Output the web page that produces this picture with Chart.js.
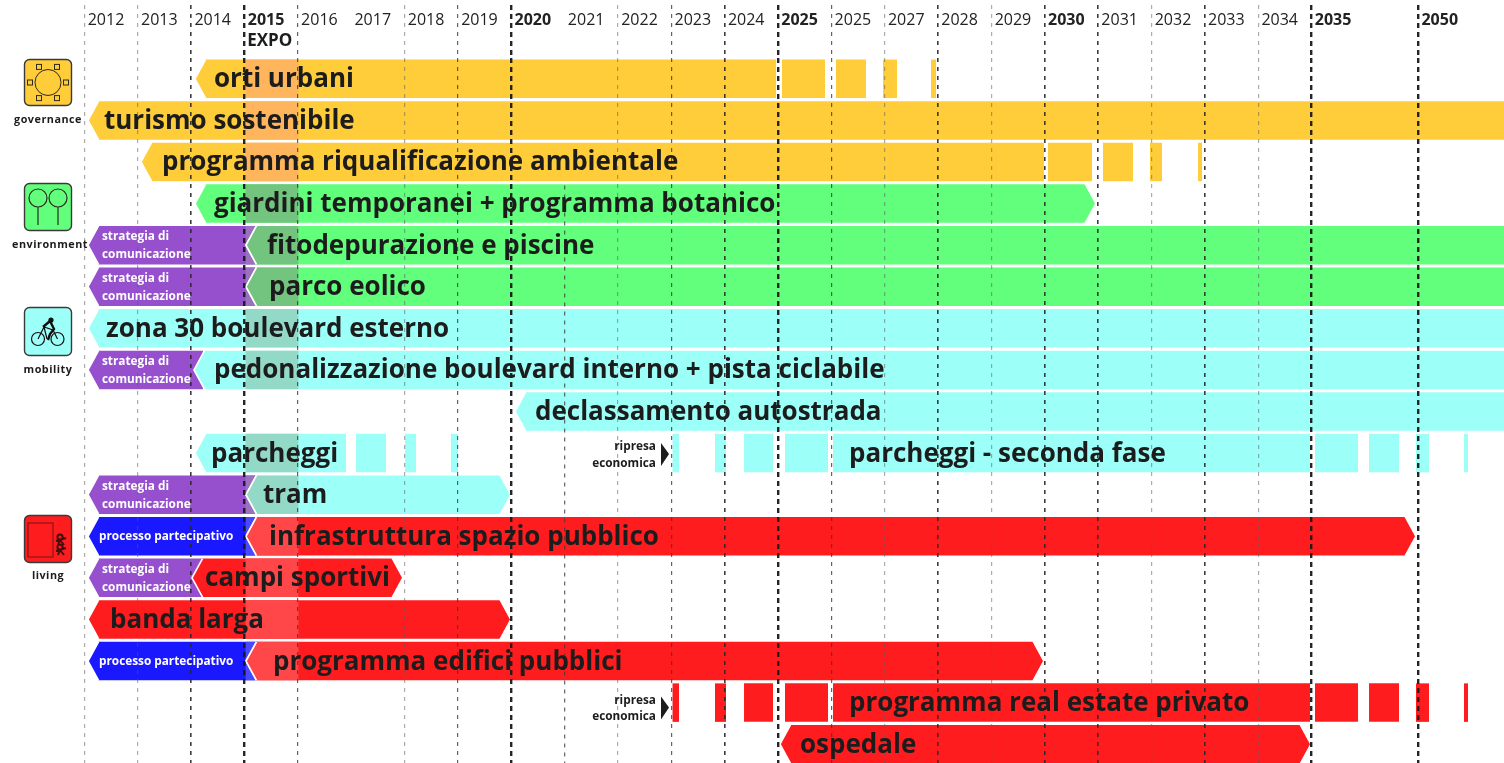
<!DOCTYPE html>
<html>
<head>
<meta charset="utf-8">
<title>Cronoprogramma</title>
<script src="https://cdn.jsdelivr.net/npm/chart.js@4"></script>
<style>
  html, body { margin: 0; padding: 0; background: #fff; overflow: hidden; }
  #wrap { width: 1504px; height: 765px; }
</style>
</head>
<body>
<div id="wrap"><canvas id="plot"></canvas></div>
<script>
// tick labels: the axis is in years, but the last tick (2050) sits two slots after 2035
const tickPositions = [2012,2013,2014,2015,2016,2017,2018,2019,2020,2021,2022,2023,2024,2025,2026,2027,2028,2029,2030,2031,2032,2033,2034,2035,2037];
const tickLabels = ["2012","2013","2014","2015","2016","2017","2018","2019","2020","2021","2022","2023","2024","2025","2025","2027","2028","2029","2030","2031","2032","2033","2034","2035","2050"];
const tickBold = [0,0,0,1,0,0,0,0,1,0,0,0,0,1,0,0,0,0,1,0,0,0,0,1,1];
// 0 no line, 1 light, 2 medium, 3 dark, 4 heavy
const tickWeight = [1,1,3,4,2,0,1,2,4,0,1,2,3,4,2,1,3,1,3,3,1,3,1,4,4];

const rowNames = [
  "orti urbani","turismo sostenibile","programma riqualificazione ambientale",
  "giardini temporanei + programma botanico","fitodepurazione e piscine","parco eolico",
  "zona 30 boulevard esterno","pedonalizzazione boulevard interno + pista ciclabile",
  "declassamento autostrada","parcheggi","tram","infrastruttura spazio pubblico",
  "campi sportivi","banda larga","programma edifici pubblici",
  "programma real estate privato","ospedale"
];
const rowGroup = ["gov","gov","gov","env","env","env","mob","mob","mob","mob","mob","liv","liv","liv","liv","liv","liv"];

const mainFrom = [2014.071,2012.066,2013.059,2014.071,2015.027,2015.027,2012.066,2014.052,2020.069,2014.071,2015.027,2015.027,2014.015,2012.066,2015.027,null,2025.036];
const mainTo = [2024.962,2038.7,2029.985,2030.941,2038.7,2038.7,2038.7,2038.7,2038.7,2016.901,2019.975,2036.939,2017.951,2019.975,2029.966,null,2034.971];
const mainRightTip = [0,0,0,1,0,0,0,0,0,0,1,1,1,1,1,0,1];
const labelFrom = [2014.427,2012.365,2013.453,2014.427,2015.421,2015.458,2012.403,2014.427,2020.444,2014.371,2015.346,2015.458,2014.259,2012.478,2015.533,2026.33,2025.411];

const ortiFragments = [[2025.074,2025.88],[2026.086,2026.648],[2026.967,2027.229],[2027.867,2027.961]];
const riqualificazioneFragments = [[2030.06,2030.885],[2031.091,2031.653],[2031.972,2032.197],[2032.872,2032.946]];
const parcheggiFragments = [[2017.089,2017.651],[2018.007,2018.214],[2018.87,2019.001]];
const secondaFase = [[2023.022,2023.143],[2023.818,2024.024],[2024.362,2024.905],[2025.13,2025.936],[2026.03,2034.971],[2035.064,2035.871],[2036.077,2036.639],[2036.958,2037.201],[2037.857,2037.932]];

const strategiaRows = [4,5,7,10,12];
const strategiaTo = [2015.233,2015.233,2014.221,2015.233,2014.221];
const processoRows = [11,14];
const processoTo = [2015.233,2015.233];
const commFrom = 2012.066;

const expoFrom = 2015.02, expoTo = 2016.01;
const expoRows = [0,1,2,3,4,5,6,7,9,10,11,12,13,14];

const colors = { gov: "#ffcc3a", env: "#62ff7c", mob: "#9cfff8", liv: "#ff1c1e" };
const expoColors = { gov: "#ffb55c", env: "#72c47e", mob: "#93d9c7", liv: "#ff4648" };
const purple = "#9650cd", purpleWash = "#9a70c0", blue = "#1a18ff", blueWash = "#4a48ff";
const ink = "#1c1c1c";
const gridStyles = [
  { color: "rgba(0,0,0,0)", width: 0, dash: [] },
  { color: "rgba(90,90,90,.5)", width: 1.2, dash: [4,5] },
  { color: "rgba(60,60,60,.8)", width: 1.2, dash: [4,5] },
  { color: "rgba(40,40,40,.9)", width: 1.6, dash: [4,5] },
  { color: "rgba(25,25,25,.95)", width: 2.4, dash: [5,4] }
];

// bars are hexagons here: the data point says which end has a tip
const TIP = 10.5;
Chart.BarElement.prototype.draw = function (ctx) {
  const p = this.getProps(["x", "y", "base", "height"]);
  const raw = this.$context.raw;
  const top = p.y - p.height / 2, bottom = p.y + p.height / 2;
  const left = Math.min(p.x, p.base), right = Math.max(p.x, p.base);
  ctx.save();
  ctx.fillStyle = this.options.backgroundColor;
  ctx.beginPath();
  ctx.moveTo(raw.tipL ? left + TIP : left, top);
  ctx.lineTo(raw.tipR ? right - TIP : right, top);
  if (raw.tipR) ctx.lineTo(right, p.y);
  ctx.lineTo(raw.tipR ? right - TIP : right, bottom);
  ctx.lineTo(raw.tipL ? left + TIP : left, bottom);
  if (raw.tipL) ctx.lineTo(left, p.y);
  ctx.closePath();
  ctx.fill();
  if (raw.tipL) {
    ctx.strokeStyle = "#fff";
    ctx.lineWidth = 1.6;
    ctx.beginPath();
    ctx.moveTo(left + TIP, top);
    ctx.lineTo(left, p.y);
    ctx.lineTo(left + TIP, bottom);
    ctx.stroke();
  }
  ctx.restore();
};

// scriptable colours keep one $context per element, the hexagons read it
const colorByRow = (table) => (c) => (c.raw ? table[rowGroup[rowNames.indexOf(c.raw.y)]] : "#000");
const fixed = (col) => () => col;

const mainBars = [];
rowNames.forEach((name, i) => {
  if (mainFrom[i] !== null) mainBars.push({ x: [mainFrom[i], mainTo[i]], y: name, tipL: true, tipR: !!mainRightTip[i] });
});
const expoBars = expoRows.map((i) => {
  const sameStart = mainFrom[i] > 2015;
  return { x: [sameStart ? mainFrom[i] : expoFrom, expoTo], y: rowNames[i], tipL: sameStart };
});
const fragmentBars = [];
const addFragments = (list, row) => list.forEach((f) => fragmentBars.push({ x: f, y: rowNames[row] }));
addFragments(ortiFragments, 0);
addFragments(riqualificazioneFragments, 2);
addFragments(parcheggiFragments, 9);
addFragments(secondaFase, 9);
addFragments(secondaFase, 15);

const strategiaBars = strategiaRows.map((r, i) => ({ x: [commFrom, strategiaTo[i]], y: rowNames[r], tipL: true }));
const processoBars = processoRows.map((r, i) => ({ x: [commFrom, processoTo[i]], y: rowNames[r], tipL: true }));
const washRows = (rows, to) => rows.filter((r, i) => to[i] > 2015.1).map((r) => ({ x: [expoFrom, 2015.233], y: rowNames[r] }));

function roundBox(ctx, x, y, w, h, fill) {
  ctx.fillStyle = fill;
  ctx.strokeStyle = "#3a3a3a";
  ctx.lineWidth = 1.4;
  ctx.beginPath();
  ctx.roundRect(x, y, w, h, 5);
  ctx.fill();
  ctx.stroke();
}

function drawIcons(ctx) {
  const stroke = "#2a2a20";
  // governance
  roundBox(ctx, 24.5, 59.5, 47, 46, colors.gov);
  ctx.strokeStyle = stroke;
  ctx.lineWidth = 1;
  ctx.beginPath();
  ctx.arc(48, 82.5, 13, 0, Math.PI * 2);
  ctx.stroke();
  for (let k = 0; k < 6; k++) {
    const a = k * Math.PI / 3;
    const cx = 48 + 18 * Math.cos(a), cy = 82.5 + 18 * Math.sin(a);
    ctx.strokeRect(cx - 2.5, cy - 2.5, 5, 5);
  }
  // environment
  roundBox(ctx, 24.5, 183.5, 47, 47, colors.env);
  ctx.strokeStyle = stroke;
  ctx.lineWidth = 1.2;
  [38, 58].forEach((cx) => {
    ctx.beginPath();
    ctx.arc(cx, 198, 9, 0, Math.PI * 2);
    ctx.moveTo(cx, 207);
    ctx.lineTo(cx, 225);
    ctx.stroke();
  });
  // mobility
  roundBox(ctx, 24.5, 307.5, 47, 48, colors.mob);
  ctx.strokeStyle = "#111";
  ctx.lineWidth = 1.2;
  ctx.beginPath();
  ctx.arc(38, 339, 6.5, 0, Math.PI * 2);
  ctx.moveTo(64, 339);
  ctx.arc(57.5, 339, 6.5, 0, Math.PI * 2);
  ctx.moveTo(38, 339);
  ctx.lineTo(44, 327);
  ctx.lineTo(53, 330);
  ctx.lineTo(57.5, 339);
  ctx.moveTo(47, 339);
  ctx.lineTo(44, 327);
  ctx.stroke();
  ctx.lineWidth = 2.4;
  ctx.beginPath();
  ctx.moveTo(43, 327);
  ctx.lineTo(50, 321);
  ctx.lineTo(54, 329);
  ctx.lineTo(50, 334);
  ctx.lineTo(48, 340);
  ctx.stroke();
  ctx.fillStyle = "#111";
  ctx.beginPath();
  ctx.arc(51, 320, 2.6, 0, Math.PI * 2);
  ctx.fill();
  // living
  roundBox(ctx, 24.5, 515.5, 47, 47, colors.liv);
  ctx.strokeStyle = "#8a1414";
  ctx.lineWidth = 1.2;
  ctx.strokeRect(28, 523, 25, 34);
  ctx.strokeStyle = "#401010";
  ctx.lineWidth = 2;
  [537, 547].forEach((y) => {
    ctx.beginPath();
    ctx.arc(60, y, 2.6, 0, Math.PI * 2);
    ctx.moveTo(56, y + 4);
    ctx.lineTo(66, y + 1);
    ctx.moveTo(60, y + 3);
    ctx.lineTo(58, y + 8);
    ctx.moveTo(60, y + 3);
    ctx.lineTo(64, y + 8);
    ctx.stroke();
  });

  ctx.fillStyle = ink;
  ctx.textAlign = "center";
  ctx.textBaseline = "alphabetic";
  ctx.font = "700 10.8px 'Open Sans'";
  ctx.letterSpacing = "0.5px";
  ctx.fillText("governance", 48, 123);
  ctx.fillText("environment", 50, 248);
  ctx.fillText("mobility", 48, 373);
  ctx.fillText("living", 48, 579);
  ctx.letterSpacing = "0px";
  ctx.textAlign = "left";
}

// texts go on top of bars and grid, placed through the scales
const textPlugin = {
  id: "gantt-text",
  afterDraw(chart) {
    const ctx = chart.ctx, xs = chart.scales.x, ys = chart.scales.y;
    // the 2021 line only starts under the third row
    const g = gridStyles[2];
    ctx.save();
    ctx.strokeStyle = g.color;
    ctx.lineWidth = g.width;
    ctx.setLineDash(g.dash);
    ctx.beginPath();
    ctx.moveTo(xs.getPixelForValue(2021), ys.getPixelForValue(3) - 18);
    ctx.lineTo(xs.getPixelForValue(2021), ys.bottom);
    ctx.stroke();
    ctx.setLineDash([]);

    ctx.textBaseline = "alphabetic";
    ctx.textAlign = "left";
    ctx.fillStyle = ink;
    ctx.font = "700 26px 'Open Sans'";
    rowNames.forEach((name, i) => {
      ctx.fillText(name, xs.getPixelForValue(labelFrom[i]), ys.getPixelForValue(i) + 8.5);
    });
    ctx.fillText("parcheggi - seconda fase", xs.getPixelForValue(2026.33), ys.getPixelForValue(9) + 8.5);

    ctx.font = "700 17px 'Open Sans'";
    ctx.fillText("EXPO", xs.getPixelForValue(2015.05), 46);

    ctx.fillStyle = "#fff";
    ctx.font = "700 11.8px 'Open Sans'";
    strategiaRows.forEach((r) => {
      const x = xs.getPixelForValue(2012.328), y = ys.getPixelForValue(r);
      ctx.fillText("strategia di", x, y - 5);
      ctx.fillText("comunicazione", x, y + 13);
    });
    processoRows.forEach((r) => {
      ctx.fillText("processo partecipativo", xs.getPixelForValue(2012.272), ys.getPixelForValue(r) + 3.5);
    });

    ctx.fillStyle = ink;
    ctx.textAlign = "right";
    ctx.font = "700 11.8px 'Open Sans'";
    [[9, -3], [15, 1]].forEach(([r, dy]) => {
      const x = xs.getPixelForValue(2022.712), y = ys.getPixelForValue(r) + dy;
      ctx.fillText("ripresa", x, y);
      ctx.fillText("economica", x, y + 16.5);
      ctx.beginPath();
      ctx.moveTo(xs.getPixelForValue(2022.806), y - 7);
      ctx.lineTo(xs.getPixelForValue(2022.956), y + 4);
      ctx.lineTo(xs.getPixelForValue(2022.806), y + 16);
      ctx.closePath();
      ctx.fill();
    });
    ctx.textAlign = "left";
    drawIcons(ctx);
    ctx.restore();
  }
};

new Chart(document.getElementById("plot"), {
  type: "bar",
  data: {
    labels: rowNames,
    // first dataset ends up on top
    datasets: [
      { label: "expo", data: expoBars, backgroundColor: colorByRow(expoColors) },
      { label: "interventi", data: mainBars, backgroundColor: colorByRow(colors) },
      { label: "fasi", data: fragmentBars, backgroundColor: colorByRow(colors) },
      { label: "expo strategia", data: washRows(strategiaRows, strategiaTo), backgroundColor: fixed(purpleWash) },
      { label: "expo processo", data: washRows(processoRows, processoTo), backgroundColor: fixed(blueWash) },
      { label: "strategia di comunicazione", data: strategiaBars, backgroundColor: fixed(purple) },
      { label: "processo partecipativo", data: processoBars, backgroundColor: fixed(blue) }
    ]
  },
  options: {
    indexAxis: "y",
    responsive: true,
    maintainAspectRatio: false,
    animation: false,
    events: [],
    layout: { padding: 0 },
    datasets: { bar: { grouped: false, barThickness: 38.5 } },
    plugins: { legend: { display: false }, tooltip: { enabled: false } },
    scales: {
      x: {
        type: "linear",
        position: "top",
        min: 2010.416,
        max: 2038.607,
        afterBuildTicks: (axis) => { axis.ticks = tickPositions.map((v) => ({ value: v })); },
        afterFit: (axis) => { axis.height = 58; },
        border: {
          display: false,
          dash: (c) => gridStyles[tickWeight[c.index]].dash
        },
        grid: {
          z: 1,
          tickLength: 53,
          color: (c) => gridStyles[tickWeight[c.index]].color,
          lineWidth: (c) => gridStyles[tickWeight[c.index]].width,
          tickColor: (c) => gridStyles[tickWeight[c.index]].color,
          tickWidth: (c) => gridStyles[tickWeight[c.index]].width,
          tickBorderDash: (c) => gridStyles[tickWeight[c.index]].dash
        },
        ticks: {
          autoSkip: false,
          maxRotation: 0,
          padding: -25,
          labelOffset: (c) => (tickBold[c.index] ? 24 : 21.5),
          color: "#222",
          font: (c) => ({ family: "'Open Sans'", size: 16, weight: tickBold[c.index] ? "700" : "400" }),
          callback: (v, i) => tickLabels[i]
        }
      },
      y: { type: "category", display: false }
    }
  },
  plugins: [textPlugin]
});
</script>
</body>
</html>
